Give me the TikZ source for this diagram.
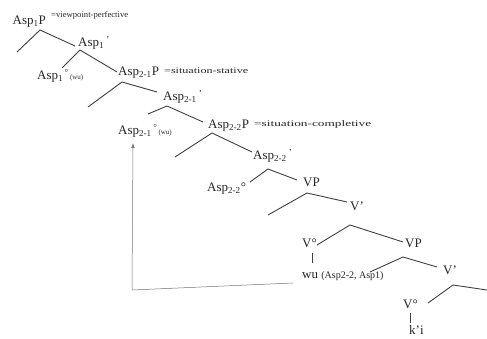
\documentclass[tikz,border=0pt]{standalone}
\usepackage{fontspec}
\setmainfont{Liberation Serif}
\usepackage{graphicx}
\usetikzlibrary{arrows.meta}
\tikzset{
  lab/.style={anchor=base west, inner sep=0pt, font=\fontsize{13}{14}\selectfont, text=black!85},
  branch/.style={draw=black!75, line width=0.9pt},
  moveline/.style={draw=black!55, line width=0.5pt},
}
\newcommand{\annot}[2]{\resizebox{#1}{\height}{\fontsize{8.5}{9}\selectfont #2}}
\begin{document}
\begin{tikzpicture}[x=1pt,y=-1pt]
\useasboundingbox[fill=white] (0,0) rectangle (487,339);
% labels
\node[lab] (asp1p) at (12.5,25) {Asp\textsubscript{1}P};
\node[lab] (ann1) at (51,18) {\annot{77pt}{=viewpoint-perfective}};
\node[lab] (asp1bar) at (78,47) {Asp\textsubscript{1}\,\textsuperscript{'}};
\node[lab] (asp1head) at (37,80) {Asp\textsubscript{1}\textsuperscript{\,°}{\fontsize{7}{8}\selectfont\,(wu)}};
\node[lab] (asp21p) at (118,76) {Asp\textsubscript{2-1}P};
\node[lab] (ann2) at (164,74) {\annot{84pt}{=situation-stative}};
\node[lab] (asp21bar) at (163,101) {Asp\textsubscript{2-1}\,\textsuperscript{'}};
\node[lab] (asp21head) at (118,135) {Asp\textsubscript{2-1}\textsuperscript{\,°}{\fontsize{7}{8}\selectfont\,(wu)}};
\node[lab] (asp22p) at (208,129) {Asp\textsubscript{2-2}P};
\node[lab] (ann3) at (254,127) {\annot{117pt}{=situation-completive}};
\node[lab] (asp22bar) at (253,160) {Asp\textsubscript{2-2}\,\textsuperscript{'}};
\node[lab] (asp22head) at (207,192) {Asp\textsubscript{2-2}°};
\node[lab] (vp1) at (303,186) {VP};
\node[lab] (vbar1) at (350,211) {V'};
\node[lab] (v1) at (302,247) {V°};
\node[lab] (vp2) at (405,247) {VP};
\node[lab] (wu) at (302,278) {wu {\fontsize{10}{11}\selectfont (Asp2-2, Asp1)}};
\node[lab] (vbar2) at (443,274) {V'};
\node[lab] (v2) at (403,308) {V°};
\node[lab] (ki) at (409,334) {k'i};
% branch points
\coordinate (a1) at (40,30);   \coordinate (a1l) at (17,52);   \coordinate (a1r) at (75,46);
\coordinate (b1) at (80,50);   \coordinate (b1l) at (62,68);   \coordinate (b1r) at (117,72);
\coordinate (a2) at (122,82);  \coordinate (a2l) at (88,107);  \coordinate (a2r) at (157,92);
\coordinate (b2) at (167,106); \coordinate (b2l) at (148,114); \coordinate (b2r) at (203,122);
\coordinate (a3) at (212,133); \coordinate (a3l) at (175,157); \coordinate (a3r) at (252,152);
\coordinate (b3) at (268,169); \coordinate (b3l) at (250,182); \coordinate (b3r) at (297,180);
\coordinate (c1) at (307,193); \coordinate (c1l) at (268,215); \coordinate (c1r) at (347,202);
\coordinate (d1) at (350,225); \coordinate (d1l) at (317,245); \coordinate (d1r) at (403,242);
\coordinate (e1t) at (312,253); \coordinate (e1b) at (312,263);
\coordinate (c2) at (403,257); \coordinate (c2l) at (370,272); \coordinate (c2r) at (437,267);
\coordinate (d2) at (453,285); \coordinate (d2l) at (428,303); \coordinate (d2r) at (487,290);
\coordinate (e2t) at (410,313); \coordinate (e2b) at (410,323);
% branches
\draw[branch] (a1l) -- (a1) -- (a1r);
\draw[branch] (b1l) -- (b1) -- (b1r);
\draw[branch] (a2l) -- (a2) -- (a2r);
\draw[branch] (b2l) -- (b2) -- (b2r);
\draw[branch] (a3l) -- (a3) -- (a3r);
\draw[branch] (b3l) -- (b3) -- (b3r);
\draw[branch] (c1l) -- (c1) -- (c1r);
\draw[branch] (d1l) -- (d1) -- (d1r);
\draw[branch] (e1t) -- (e1b);
\draw[branch] (c2l) -- (c2) -- (c2r);
\draw[branch] (d2l) -- (d2) -- (d2r);
\draw[branch] (e2t) -- (e2b);
% movement arrow
\coordinate (mfoot) at (132,290);
\coordinate (mtip) at (133,143);
\coordinate (mend) at (293,283);
\draw[moveline] (mend) -- (mfoot);
\draw[moveline, -{Latex[length=5pt,width=3.5pt]}] (mfoot) -- (mtip);
\end{tikzpicture}
\end{document}
